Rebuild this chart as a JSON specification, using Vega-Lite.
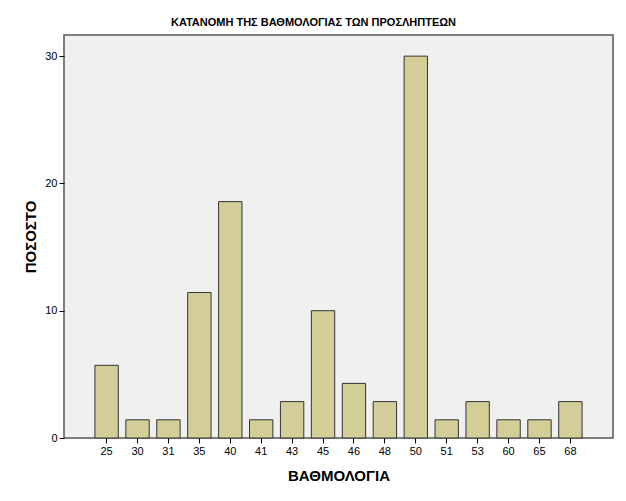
{
  "$schema": "https://vega.github.io/schema/vega-lite/v6.json",
  "autosize": "none",
  "width": 549,
  "height": 403,
  "padding": {"left": 64, "top": 35, "right": 13, "bottom": 63},
  "background": "white",
  "title": {
    "text": "ΚΑΤΑΝΟΜΗ ΤΗΣ ΒΑΘΜΟΛΟΓΙΑΣ ΤΩΝ ΠΡΟΣΛΗΠΤΕΩΝ",
    "font": "Liberation Sans",
    "fontSize": 11,
    "fontWeight": "bold",
    "color": "black",
    "anchor": "middle",
    "dx": -25,
    "offset": 7
  },
  "config": {
    "view": {"fill": "#F0F0F0", "stroke": "#555555", "strokeWidth": 1.5},
    "axis": {
      "labelFont": "Liberation Sans",
      "titleFont": "Liberation Sans",
      "labelFontSize": 11,
      "labelColor": "black",
      "titleColor": "black",
      "titleFontSize": 15,
      "titleFontWeight": "bold",
      "tickColor": "black",
      "domainColor": "#555555",
      "grid": false
    }
  },
  "data": {
    "values": [
      {"score": "25", "pct": 5.71},
      {"score": "30", "pct": 1.43},
      {"score": "31", "pct": 1.43},
      {"score": "35", "pct": 11.43},
      {"score": "40", "pct": 18.57},
      {"score": "41", "pct": 1.43},
      {"score": "43", "pct": 2.86},
      {"score": "45", "pct": 10.0},
      {"score": "46", "pct": 4.29},
      {"score": "48", "pct": 2.86},
      {"score": "50", "pct": 30.0},
      {"score": "51", "pct": 1.43},
      {"score": "53", "pct": 2.86},
      {"score": "60", "pct": 1.43},
      {"score": "65", "pct": 1.43},
      {"score": "68", "pct": 2.86}
    ]
  },
  "mark": {"type": "bar", "color": "#D3CE98", "stroke": "#333333", "strokeWidth": 1},
  "encoding": {
    "x": {
      "field": "score",
      "type": "ordinal",
      "sort": null,
      "title": "ΒΑΘΜΟΛΟΓΙΑ",
      "scale": {"paddingInner": 0.244, "paddingOuter": 1.03},
      "axis": {"labelAngle": 0, "tickSize": 5, "labelPadding": 2, "titleY": 30, "domain": false}
    },
    "y": {
      "field": "pct",
      "type": "quantitative",
      "title": "ΠΟΣΟΣΤΟ",
      "scale": {"domain": [0, 31.66], "nice": false},
      "axis": {"values": [0, 10, 20, 30], "tickSize": 5, "labelPadding": 2, "titleX": -26, "domain": false}
    }
  }
}
